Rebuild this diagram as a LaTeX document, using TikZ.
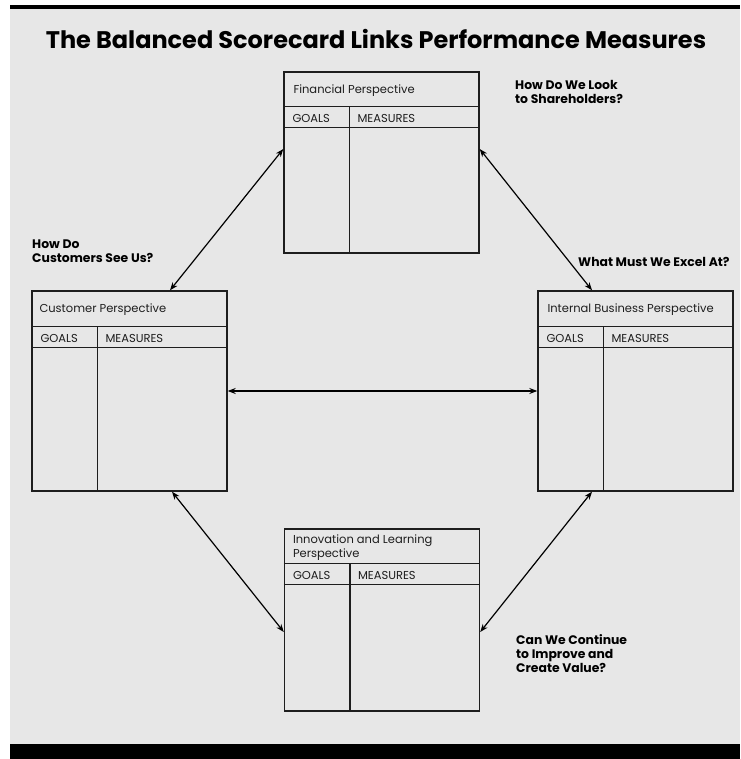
\documentclass[tikz,border=0pt]{standalone}
\usepackage{fontspec}
\setmainfont{Poppins}
\usetikzlibrary{arrows.meta,calc}

\definecolor{panel}{RGB}{231,231,231}
\definecolor{ink}{RGB}{30,30,30}

% rules inside one card: title row, goals row, divider
\newcommand{\cardrules}[2]{%
  \draw[rule] ($(#1.north west)+(0,-#2)$) -- ($(#1.north east)+(0,-#2)$);
  \draw[rule] ($(#1.north west)+(0,-#2-21)$) -- ($(#1.north east)+(0,-#2-21)$);
  \draw[rule] ($(#1.north west)+(66,-#2)$) -- ($(#1.south west)+(66,0)$);
  \node[cardtext,anchor=base west] (#1goals) at ($(#1.north west)+(9,-#2-16)$) {GOALS};
  \node[cardtext,anchor=base west] (#1meas) at ($(#1.north west)+(74,-#2-16)$) {MEASURES};
}

\begin{document}
\begin{tikzpicture}[x=1pt,y=1pt,
  card/.style={draw=ink,line width=1.4pt,minimum width=195pt,inner sep=0pt},
  rule/.style={draw=ink,line width=1.4pt},
  cardtext/.style={inner sep=0pt,font=\fontsize{11.5}{13.5}\selectfont,text=ink,align=left},
  question/.style={inner sep=0pt,font=\bfseries\fontsize{12.4}{14}\selectfont,align=left},
  link/.style={<->,line width=1.2pt,>={Stealth[length=8pt,width=6pt]}}]

  \useasboundingbox (0,0) rectangle (740,759);
  \fill[white] (0,0) rectangle (740,759);
  \fill[panel] (10,15) rectangle (740,750);
  \fill[black] (10,750) rectangle (740,754);
  \fill[black] (10,0) rectangle (740,15);

  \node[inner sep=0pt,anchor=base,font=\bfseries\fontsize{24}{28}\selectfont] (title) at (376,710)
    {The Balanced Scorecard Links Performance Measures};

  % the four perspectives
  \node[card,minimum height=181pt] (fin) at (381.5,596.5) {};
  \node[card,minimum height=200pt] (cust) at (129.5,368) {};
  \node[card,minimum height=200pt] (intl) at (635.5,368) {};
  \node[card,minimum height=182pt] (innov) at (382,139) {};

  \cardrules{fin}{35}
  \cardrules{cust}{36}
  \cardrules{intl}{36}
  \cardrules{innov}{35}

  \node[cardtext,anchor=base west] (fintitle) at ($(fin.north west)+(10,-22)$) {Financial Perspective};
  \node[cardtext,anchor=base west] (custtitle) at ($(cust.north west)+(8,-22)$) {Customer Perspective};
  \node[cardtext,anchor=base west] (intltitle) at ($(intl.north west)+(10,-22)$) {Internal Business Perspective};
  \node[cardtext,anchor=base west] (innovtitle) at ($(innov.north west)+(9,-29)$) {Innovation and Learning\\Perspective};

  % questions
  \node[question,anchor=base west] (qfin) at (515,655) {How Do We Look\\to Shareholders?};
  \node[question,anchor=base west] (qintl) at (578,492) {What Must We Excel At?};
  \node[question,anchor=base west] (qcust) at (32,496) {How Do\\Customers See Us?};
  \node[question,anchor=base west] (qinnov) at (516,86) {Can We Continue\\to Improve and\\Create Value?};

  % link points on the cards
  \coordinate (finW) at ($(fin.west)+(0,13.5)$);
  \coordinate (finE) at ($(fin.east)+(0,13.5)$);
  \coordinate (custN) at ($(cust.north)+(40.5,0)$);
  \coordinate (custS) at ($(cust.south)+(42.5,0)$);
  \coordinate (intlN) at ($(intl.north)+(-43.5,0)$);
  \coordinate (intlS) at ($(intl.south)+(-43.5,0)$);
  \coordinate (innovW) at ($(innov.west)+(0,-12)$);
  \coordinate (innovE) at ($(innov.east)+(0,-12)$);

 \path[link]
 (finW) edge (custN)
 (finE) edge (intlN)
 (cust.east) edge (intl.west)
 (custS) edge (innovW)
 (intlS) edge (innovE);

\end{tikzpicture}
\end{document}
